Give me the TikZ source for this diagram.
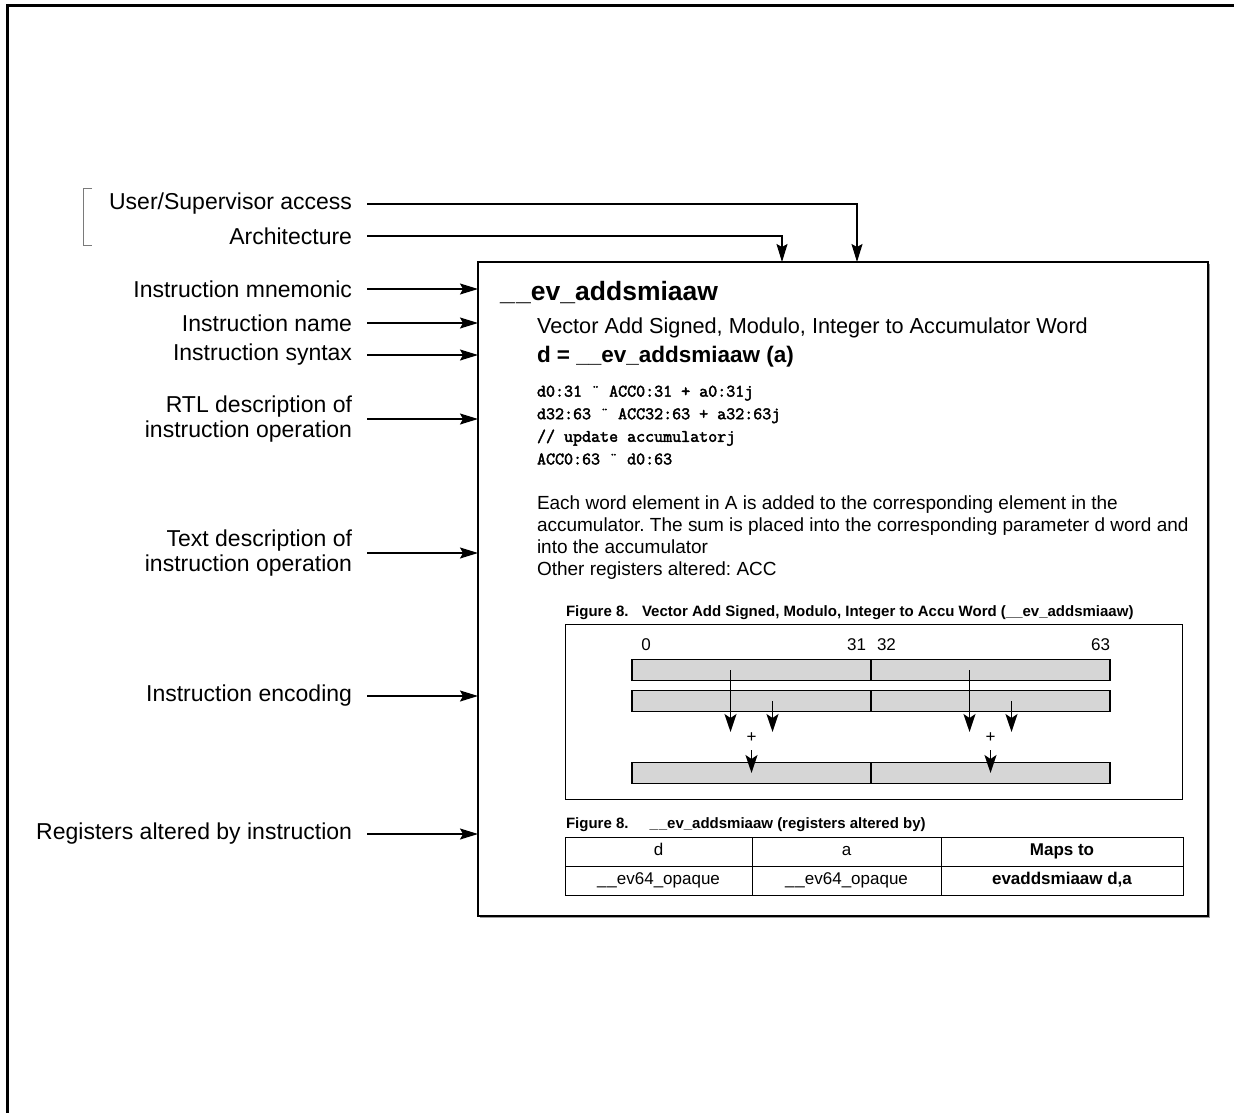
\documentclass[tikz,border=0pt]{standalone}
\usepackage{fontspec}
\setmainfont{Liberation Sans}
\newfontfamily\codefont[FakeBold=2.5]{Latin Modern Mono}
\usepackage{tikz}
\usetikzlibrary{positioning,arrows.meta,shadows}
\definecolor{Bar}{HTML}{D6D6D6}
\definecolor{Rule}{HTML}{7A7A7A}
\definecolor{Shade}{HTML}{9A9A9A}
\frenchspacing

\begin{document}
\begin{tikzpicture}[x=1pt,y=-1pt, every node/.style={inner sep=0pt,outer sep=0pt}]
\tikzstyle{lbl}=[anchor=east,align=right,font=\fontsize{23}{25}\selectfont]
\tikzstyle{ptr}=[-{Stealth[length=18pt,width=11pt,inset=3pt]},line width=1.3pt]
\tikzstyle{flow}=[-{Stealth[length=18pt,width=12pt,inset=4pt]},line width=1.6pt]
\tikzstyle{regbar}=[draw,fill=Bar,line width=1.3pt,minimum width=239,minimum height=21]
\tikzstyle{cell}=[draw,line width=1pt,minimum height=29,text height=12,text depth=4,font=\fontsize{17}{17}\selectfont]
\tikzstyle{body}=[anchor=base west,font=\fontsize{19}{22}\selectfont]
\tikzstyle{code}=[anchor=base west,font=\codefont\fontsize{17.5}{22}\selectfont]
\tikzstyle{capt}=[anchor=base west,font=\bfseries\fontsize{15}{15}\selectfont]
\useasboundingbox (0,0) rectangle (1234,1113);
% page frame, cut at right and bottom
\draw[line width=3pt] (7,1113) -- (7,6) -- (1234,6);
% call-out labels
\node[lbl] (usa) at (352,204) {User/Supervisor access};
\node[lbl] (arch) at (352,236) {Architecture};
\node[lbl] (mnem) at (352,289) {Instruction mnemonic};
\node[lbl] (iname) at (352,323) {Instruction name};
\node[lbl] (isyn) at (352,355) {Instruction syntax};
\node[lbl] (rtl) at (352,419) {RTL description of\\instruction operation};
\node[lbl] (txt) at (352,553) {Text description of\\instruction operation};
\node[lbl] (enc) at (352,696) {Instruction encoding};
\node[lbl] (regs) at (352,834) {Registers altered by instruction};
\draw[Rule,line width=1pt] (92,188) -- (83,188) -- (83,245) -- (92,245);
% instruction page
\node[draw,line width=1.2pt,fill=white,anchor=north west,minimum width=730,minimum height=654,
  drop shadow={shadow xshift=1.5pt,shadow yshift=-1.5pt,fill=Shade,opacity=1}] (instr) at (478,262) {};
\coordinate (archin) at (782,262);
\coordinate (usain) at (857,262);
\draw[ptr] ([xshift=15]usa.east) -| (usain);
\draw[ptr] ([xshift=15]arch.east) -| (archin);
\foreach \n in {mnem,iname,isyn,rtl,txt,enc,regs}
  \draw[ptr] ([xshift=15]\n.east) -- (\n.east -| instr.west);
% page text
\node[anchor=base west,font=\bfseries\fontsize{26.5}{30}\selectfont] (mn) at (500,300) {\_\kern1.5pt\_ev\_addsmiaaw};
\node[anchor=base west,font=\fontsize{21.7}{25}\selectfont] (nm) at (537,333) {Vector Add Signed, Modulo, Integer to Accumulator Word};
\node[anchor=base west,font=\bfseries\fontsize{22.5}{25}\selectfont] (sx) at (537,362) {d = \_\_ev\_addsmiaaw (a)};
\foreach \t [count=\i] in {{d0:31 ¨ ACC0:31 + a0:31j},{d32:63 ¨ ACC32:63 + a32:63j},{// update accumulatorj},{ACC0:63 ¨ d0:63}}
  \node[code] (rtl\i) at (537,374+22.6*\i) {\t};
\foreach \t [count=\i] in {{Each word element in A is added to the corresponding element in the},{accumulator. The sum is placed into the corresponding parameter d word and},{into the accumulator},{Other registers altered: ACC}}
  \node[body] (par\i) at (537,487+22*\i) {\t};
% encoding figure
\node[capt] (cap1) at (566,616) {Figure 8.\hspace{0.9em}Vector Add Signed, Modulo, Integer to Accu Word (\_\_ev\_addsmiaaw)};
\node[draw,line width=1pt,anchor=north west,minimum width=617,minimum height=175] (encbox) at (565,624) {};
\foreach \b/\x/\a in {0/646/center,31/866/east,32/877/west,63/1110/east}
  \node[anchor=\a,font=\fontsize{17}{17}\selectfont] (bit\b) at (\x,645) {\b};
\foreach \r/\y in {1/670,2/701,3/773} {
  \node[regbar,anchor=east] (r\r l) at (871,\y) {};
  \node[regbar,anchor=west] (r\r r) at (871,\y) {};
}
\foreach \s in {l,r} {
  \node[font=\fontsize{17}{17}\selectfont] (pl\s) at ([yshift=-68]r1\s.center) {+};
  \draw[flow] ([xshift=-21]r1\s.center) -- ([xshift=-21,yshift=6]pl\s.center);
  \draw[flow] ([xshift=21]r2\s.center) -- ([xshift=21,yshift=6]pl\s.center);
  \draw[flow] ([yshift=-12]pl\s.center) -- (r3\s.center);
}
% registers table
\node[capt] (cap2) at (566,828) {Figure 8.\hspace{1.4em}\_\kern1pt\_ev\_addsmiaaw (registers altered by)};
\node[cell,minimum width=187,anchor=north west] (t11) at (565,837) {d};
\node[cell,minimum width=189,right=0pt of t11] (t12) {a};
\node[cell,minimum width=242,right=0pt of t12,font=\bfseries\fontsize{17}{17}\selectfont] (t13) {Maps to};
\node[cell,minimum width=187,below=0pt of t11] (t21) {\_\kern1pt\_ev64\_opaque};
\node[cell,minimum width=189,below=0pt of t12] (t22) {\_\kern1pt\_ev64\_opaque};
\node[cell,minimum width=242,below=0pt of t13,font=\bfseries\fontsize{17}{17}\selectfont] (t23) {evaddsmiaaw d,a};
\end{tikzpicture}
\end{document}
